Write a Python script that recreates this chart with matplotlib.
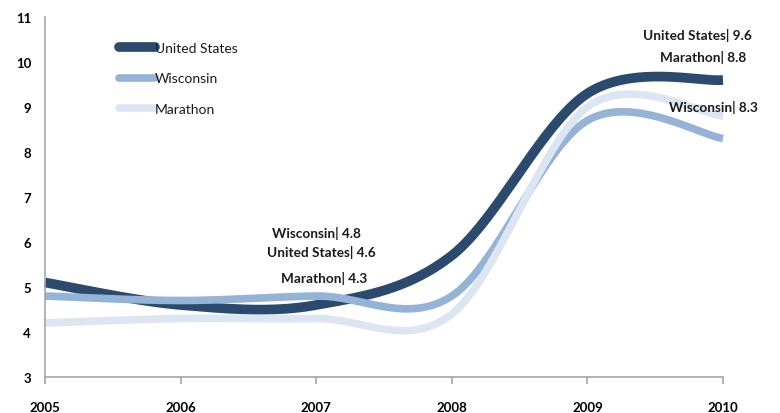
import numpy as np
import matplotlib
matplotlib.use("Agg")
import matplotlib.pyplot as plt

years = [2005, 2006, 2007, 2008, 2009, 2010]
us = [5.1, 4.6, 4.6, 5.7, 9.3, 9.6]
wisconsin = [4.8, 4.7, 4.8, 4.8, 8.7, 8.3]
marathon = [4.2, 4.3, 4.3, 4.4, 9.0, 8.8]

plt.rcParams['font.family'] = ['Lato', 'DejaVu Sans']


def smooth(x, y, n=40):
    # excel style smoothed line: bezier segments through every point
    x = np.asarray(x, float)
    y = np.asarray(y, float)
    px = np.concatenate([[x[0]], x, [x[-1]]])
    py = np.concatenate([[y[0]], y, [y[-1]]])
    xs, ys = [], []
    t = np.linspace(0, 1, n)
    for i in range(1, len(px) - 2):
        p0 = np.array([px[i], py[i]])
        p3 = np.array([px[i + 1], py[i + 1]])
        c1 = p0 + (p3 - np.array([px[i - 1], py[i - 1]])) / 6
        c2 = p3 - (np.array([px[i + 2], py[i + 2]]) - p0) / 6
        b = ((1 - t) ** 3)[:, None] * p0 + (3 * (1 - t) ** 2 * t)[:, None] * c1 \
            + (3 * (1 - t) * t ** 2)[:, None] * c2 + (t ** 3)[:, None] * p3
        xs.extend(b[:, 0])
        ys.extend(b[:, 1])
    return xs, ys


fig = plt.figure(figsize=(7.8, 4.14), dpi=100)
ax = fig.add_axes([45 / 780, 1 - 378 / 414, 678 / 780, 360 / 414])

series = [("United States", us, "#2C4A6E", 7.0),
          ("Wisconsin", wisconsin, "#95B3D7", 5.5),
          ("Marathon", marathon, "#DCE6F2", 5.5)]
for name, vals, col, lw in series:
    sx, sy = smooth(years, vals)
    ax.plot(sx, sy, color=col, lw=lw, label=name, solid_capstyle="butt",
            clip_on=False)

ax.set_xlim(2005, 2010)
ax.set_ylim(3, 11)
ax.set_xticks(years)
ax.set_yticks(range(3, 12))
for s in ["top", "right"]:
    ax.spines[s].set_visible(False)
for s in ["left", "bottom"]:
    ax.spines[s].set_color("#A6A6A6")
    ax.spines[s].set_linewidth(1.2)
ax.tick_params(axis="x", direction="out", length=5, color="#A6A6A6", width=1.2, pad=12)
ax.tick_params(axis="y", length=0, pad=10)
for lab in ax.get_xticklabels() + ax.get_yticklabels():
    lab.set_fontweight("bold")
    lab.set_fontsize(9.5)

leg = ax.legend(loc="upper left", bbox_to_anchor=(0.09, 0.965), frameon=False,
                handlelength=2.6, handletextpad=0.0, labelspacing=1.32,
                prop={"size": 10})
for line in leg.get_lines():
    line.set_solid_capstyle("round")
for txt in leg.get_texts():
    txt.set_color("#1a1a1a")

kw = dict(ha="center", va="center", fontsize=9.8, fontweight="bold", color="#1a1a1a")
ax.text(2009.81, 10.62, "United States| %.1f" % us[-1], **kw)
ax.text(2009.85, 10.13, "Marathon| %.1f" % marathon[-1], **kw)
ax.text(2009.93, 9.0, "Wisconsin| %.1f" % wisconsin[-1], **kw)
ax.text(2007.0, 6.22, "Wisconsin| %.1f" % wisconsin[2], **kw)
ax.text(2007.04, 5.78, "United States| %.1f" % us[2], **kw)
ax.text(2007.06, 5.2, "Marathon| %.1f" % marathon[2], **kw)

fig.savefig("out.png", dpi=100)
